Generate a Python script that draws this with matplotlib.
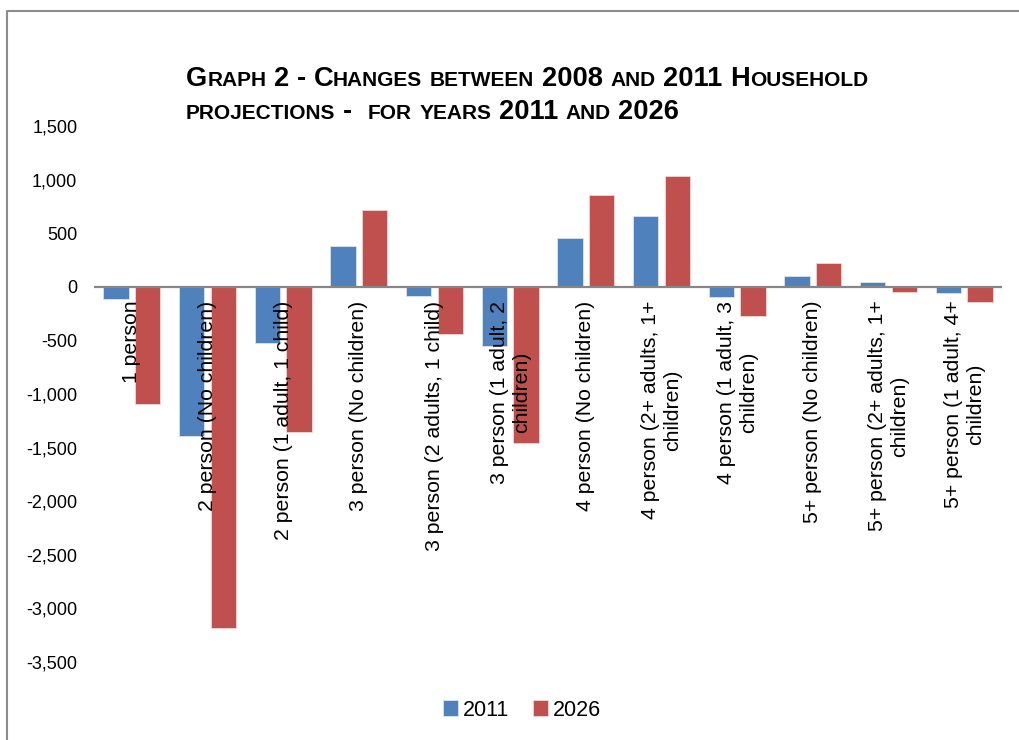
import matplotlib
matplotlib.use("Agg")
import matplotlib.pyplot as plt
from matplotlib.font_manager import FontProperties
from matplotlib.lines import Line2D
from matplotlib.ticker import FuncFormatter
import numpy as np

plt.rcParams['font.family'] = ['Liberation Sans', 'DejaVu Sans']

categories = [
    "1 person",
    "2 person (No children)",
    "2 person (1 adult, 1 child)",
    "3 person (No children)",
    "3 person (2 adults, 1 child)",
    "3 person (1 adult, 2\nchildren)",
    "4 person (No children)",
    "4 person (2+ adults, 1+\nchildren)",
    "4 person (1 adult, 3\nchildren)",
    "5+ person (No children)",
    "5+ person (2+ adults, 1+\nchildren)",
    "5+ person (1 adult, 4+\nchildren)",
]
years = ["2011", "2026"]
change_2011 = [-117, -1394, -520, 378, -89, -551, 453, 663, -93, 102, 41, -56]
change_2026 = [-1093, -3185, -1357, 719, -437, -1453, 852, 1029, -272, 220, -46, -139]
title_lines = ["Graph 2 - Changes between 2008 and 2011 Household",
               "projections -  for years 2011 and 2026"]

W, H = 1020, 740
BLUE = "#4F81BD"
RED = "#C0504D"

fig = plt.figure(figsize=(W / 100, H / 100), dpi=100)
ax = fig.add_axes([94 / W, 1 - 662 / H, (1002 - 94) / W, (662 - 126) / H])

x = np.arange(len(categories))
bw = 0.335
off = 0.21
ax.bar(x - off, change_2011, bw, color=BLUE, edgecolor="#dbe4f0", linewidth=0.6, label=years[0], zorder=2)
ax.bar(x + off, change_2026, bw, color=RED, edgecolor="#f0d6d5", linewidth=0.6, label=years[1], zorder=2)
ax.axhline(0, color="#868686", lw=1.6, zorder=3)

ax.set_xlim(-0.5, len(categories) - 0.5)
ax.set_ylim(-3500, 1500)
ax.set_yticks(np.arange(-3500, 1501, 500))
ax.yaxis.set_major_formatter(FuncFormatter(lambda v, p: f"{v:,.0f}"))
ax.tick_params(axis="y", length=0, pad=12, labelsize=13)
ax.set_xticks([])
for s in ax.spines.values():
    s.set_visible(False)

# category names hang below the zero line, over the bars
for i, name in enumerate(categories):
    ax.annotate(name, xy=(i, 0), xytext=(0, -10), textcoords="offset points",
                rotation=90, ha="center", va="top", multialignment="center",
                fontsize=15.3, zorder=5)

leg = fig.legend(loc="center", bbox_to_anchor=(522 / W, 1 - 710 / H), ncol=2, frameon=False,
                 fontsize=15.5, handlelength=0.7, handleheight=0.7, handletextpad=0.25,
                 columnspacing=1.1)


def advance(renderer, s, fp):
    w1 = renderer.get_text_width_height_descent("|" + s + "|", fp, ismath=False)[0]
    w0 = renderer.get_text_width_height_descent("||", fp, ismath=False)[0]
    return w1 - w0


def small_caps(text, x0, y0, big, small):
    renderer = fig.canvas.get_renderer()
    xpos = x0
    runs = []
    for ch in text:
        size = small if ch.islower() else big
        if runs and runs[-1][1] == size:
            runs[-1][0] += ch.upper()
        else:
            runs.append([ch.upper(), size])
    for s, size in runs:
        fp = FontProperties(family="Liberation Sans", weight="bold", size=size)
        for k, word in enumerate(s.split(" ")):
            if k > 0:
                xpos += advance(renderer, " ", fp)
            if word:
                fig.text(xpos / W, 1 - y0 / H, word, fontproperties=fp, ha="left", va="baseline")
                xpos += advance(renderer, word, fp)


small_caps(title_lines[0], 186, 86, 19.6, 15.0)
small_caps(title_lines[1], 186, 119, 19.6, 15.0)

# outer chart frame (left and top edges)
fig.add_artist(Line2D([7 / W, 7 / W, 1.0], [0.0, 1 - 11 / H, 1 - 11 / H],
                      transform=fig.transFigure, color="#8c8c8c", lw=1.5))

fig.savefig("out.png", dpi=100)
